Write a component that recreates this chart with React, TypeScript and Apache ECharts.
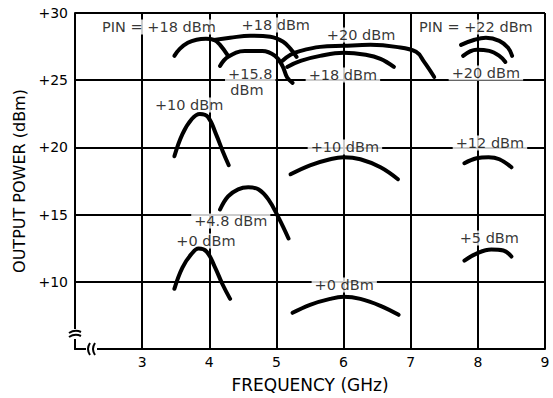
import React, { useEffect, useRef } from 'react';
import * as echarts from 'echarts';

// Axis ranges / ticks
const FREQ_MIN = 2;
const FREQ_MAX = 9;
const FREQ_STEP = 1;
const POWER_MIN = 5;
const POWER_MAX = 30;
const POWER_STEP = 5;

// Curves: [frequency GHz, output power dBm]
const curvePin18Left: [number, number][] = [
  [3.48, 26.81], [3.56, 27.33], [3.68, 27.78], [3.81, 28.01], [3.95, 28.08], [4.07, 28.0], [4.16, 27.63], [4.28, 26.81],
];
const curvePin18Top: [number, number][] = [
  [4.07, 28.0], [4.31, 28.16], [4.61, 28.31], [4.91, 28.23], [5.1, 27.86], [5.21, 27.33], [5.3, 26.74],
];
const curvePin158: [number, number][] = [
  [4.16, 26.06], [4.28, 26.74], [4.53, 27.18], [4.79, 27.18], [4.98, 26.81], [5.09, 26.06], [5.16, 25.2], [5.24, 24.8],
];
const curvePin20Mid: [number, number][] = [
  [5.09, 26.44], [5.21, 26.89], [5.36, 27.18], [5.65, 27.48], [6.0, 27.56], [6.4, 27.63], [6.78, 27.48], [7.08, 27.11], [7.2, 26.36], [7.35, 25.24],
];
const curvePin18Mid: [number, number][] = [
  [5.16, 25.99], [5.36, 26.44], [5.65, 26.81], [6.0, 27.04], [6.33, 26.89], [6.55, 26.59], [6.75, 25.99],
];
const curvePin22: [number, number][] = [
  [7.75, 27.63], [7.95, 28.01], [8.12, 28.16], [8.32, 27.93], [8.45, 27.41], [8.51, 26.81],
];
const curvePin20Right: [number, number][] = [
  [7.78, 26.81], [7.98, 27.26], [8.17, 27.18], [8.32, 26.81], [8.41, 26.36],
];
const curvePin10Left: [number, number][] = [
  [3.48, 19.34], [3.6, 20.99], [3.74, 22.11], [3.86, 22.48], [3.98, 22.26], [4.1, 20.99], [4.2, 19.72], [4.29, 18.67],
];
const curvePin0Left: [number, number][] = [
  [3.48, 9.48], [3.6, 11.06], [3.74, 12.1], [3.84, 12.47], [3.96, 12.25], [4.08, 11.13], [4.2, 9.78], [4.31, 8.73],
];
const curvePin48: [number, number][] = [
  [4.16, 15.38], [4.28, 16.35], [4.43, 16.88], [4.58, 17.03], [4.73, 16.88], [4.88, 16.13], [5.03, 14.79], [5.18, 13.22],
];
const curvePin10Mid: [number, number][] = [
  [5.21, 18.0], [5.5, 18.67], [5.8, 19.12], [6.0, 19.27], [6.25, 19.12], [6.55, 18.52], [6.81, 17.63],
];
const curvePin0Mid: [number, number][] = [
  [5.24, 7.69], [5.5, 8.29], [5.8, 8.73], [6.0, 8.88], [6.25, 8.73], [6.55, 8.21], [6.82, 7.54],
];
const curvePin12: [number, number][] = [
  [7.8, 18.82], [7.98, 19.19], [8.16, 19.27], [8.32, 19.12], [8.5, 18.52],
];
const curvePin5: [number, number][] = [
  [7.8, 11.58], [7.98, 12.1], [8.2, 12.4], [8.38, 12.33], [8.5, 11.88],
];

const curves = [
  curvePin18Left, curvePin18Top, curvePin158, curvePin20Mid, curvePin18Mid, curvePin22, curvePin20Right,
  curvePin10Left, curvePin0Left, curvePin48, curvePin10Mid, curvePin0Mid, curvePin12, curvePin5,
];

// Annotation labels
const labelTexts = [
  'PIN = +18 dBm', '+18 dBm', '+20 dBm', 'PIN = +22 dBm', '+15.8', 'dBm', '+18 dBm', '+20 dBm',
  '+10 dBm', '+10 dBm', '+12 dBm', '+4.8 dBm', '+0 dBm', '+5 dBm', '+0 dBm',
];
const labelFreq = [3.25, 4.99, 6.26, 7.97, 4.61, 4.56, 5.99, 8.12, 3.7, 6.02, 8.18, 4.32, 3.95, 8.17, 6.01];
const labelPower = [28.96, 29.11, 28.36, 28.96, 25.46, 24.27, 25.39, 25.54, 23.15, 20.03, 20.33, 14.52, 13.04, 13.26, 9.76];

const FONT = 'DejaVu Sans';

export default function App() {
  const ref = useRef<HTMLDivElement>(null);
  useEffect(() => {
    const chart = echarts.init(ref.current!, null, { renderer: 'svg' });
    const axisLineStyle = { color: '#000', width: 2 };
    chart.setOption({
      animation: false,
      backgroundColor: '#fff',
      grid: { left: 75, right: 8, top: 13, bottom: 49 },
      xAxis: {
        type: 'value',
        min: FREQ_MIN,
        max: FREQ_MAX,
        interval: FREQ_STEP,
        name: 'FREQUENCY (GHz)',
        nameLocation: 'middle',
        nameGap: 27,
        nameTextStyle: { fontFamily: FONT, fontSize: 17, color: '#000' },
        axisLine: { show: true, onZero: false, lineStyle: axisLineStyle },
        axisTick: { show: false },
        splitLine: { show: true, lineStyle: axisLineStyle },
        axisLabel: {
          margin: 6,
          fontFamily: FONT,
          fontSize: 14,
          color: '#000',
          formatter: (v: number) => (v === FREQ_MIN ? '' : String(v)),
        },
      },
      yAxis: {
        type: 'value',
        min: POWER_MIN,
        max: POWER_MAX,
        interval: POWER_STEP,
        name: 'OUTPUT POWER (dBm)',
        nameLocation: 'middle',
        nameGap: 46,
        nameTextStyle: { fontFamily: FONT, fontSize: 16, color: '#000' },
        axisLine: { show: true, onZero: false, lineStyle: axisLineStyle },
        axisTick: { show: false },
        splitLine: { show: true, lineStyle: axisLineStyle },
        axisLabel: {
          margin: 7,
          fontFamily: FONT,
          fontSize: 14,
          color: '#000',
          formatter: (v: number) => (v === POWER_MIN ? '' : '+' + v),
        },
      },
      series: [
        ...curves.map((c) => ({
          type: 'line',
          data: c,
          smooth: 0.4,
          symbol: 'none',
          silent: true,
          z: 3,
          lineStyle: { color: '#000', width: 4, cap: 'round', join: 'round' },
        })),
        {
          type: 'scatter',
          symbolSize: 0,
          silent: true,
          z: 2,
          data: labelFreq.map((f, i) => [f, labelPower[i]]),
          label: {
            show: true,
            position: 'inside',
            formatter: (p: any) => labelTexts[p.dataIndex],
            fontFamily: FONT,
            fontSize: 14.5,
            lineHeight: 15,
            color: '#000',
            align: 'center',
            backgroundColor: '#fff',
            padding: [0, 3],
          },
        },
      ],
    });

    const [x0, y0] = chart.convertToPixel({ gridIndex: 0 }, [FREQ_MIN, POWER_MIN]) as number[];
    const stroke = { stroke: '#000', lineWidth: 2, fill: null };
    chart.setOption({
      graphic: [
        { type: 'rect', z: 100, shape: { x: x0 - 5, y: y0 - 20, width: 10, height: 10 }, style: { fill: '#fff' } },
        { type: 'bezierCurve', z: 101, shape: { x1: x0 - 6, y1: y0 - 16, x2: x0 + 6, y2: y0 - 17, cpx1: x0, cpy1: y0 - 20 }, style: stroke },
        { type: 'bezierCurve', z: 101, shape: { x1: x0 - 6, y1: y0 - 12, x2: x0 + 6, y2: y0 - 13, cpx1: x0, cpy1: y0 - 16 }, style: stroke },
        { type: 'rect', z: 100, shape: { x: x0 + 11, y: y0 - 5, width: 11, height: 10 }, style: { fill: '#fff' } },
        { type: 'bezierCurve', z: 101, shape: { x1: x0 + 15, y1: y0 - 6, x2: x0 + 15, y2: y0 + 6, cpx1: x0 + 11, cpy1: y0 }, style: stroke },
        { type: 'bezierCurve', z: 101, shape: { x1: x0 + 20, y1: y0 - 6, x2: x0 + 20, y2: y0 + 6, cpx1: x0 + 16, cpy1: y0 }, style: stroke },
      ],
    });
    return () => chart.dispose();
  }, []);
  return <div ref={ref} style={{ position: 'fixed', left: 0, top: 0, width: 553, height: 398 }} />;
}
